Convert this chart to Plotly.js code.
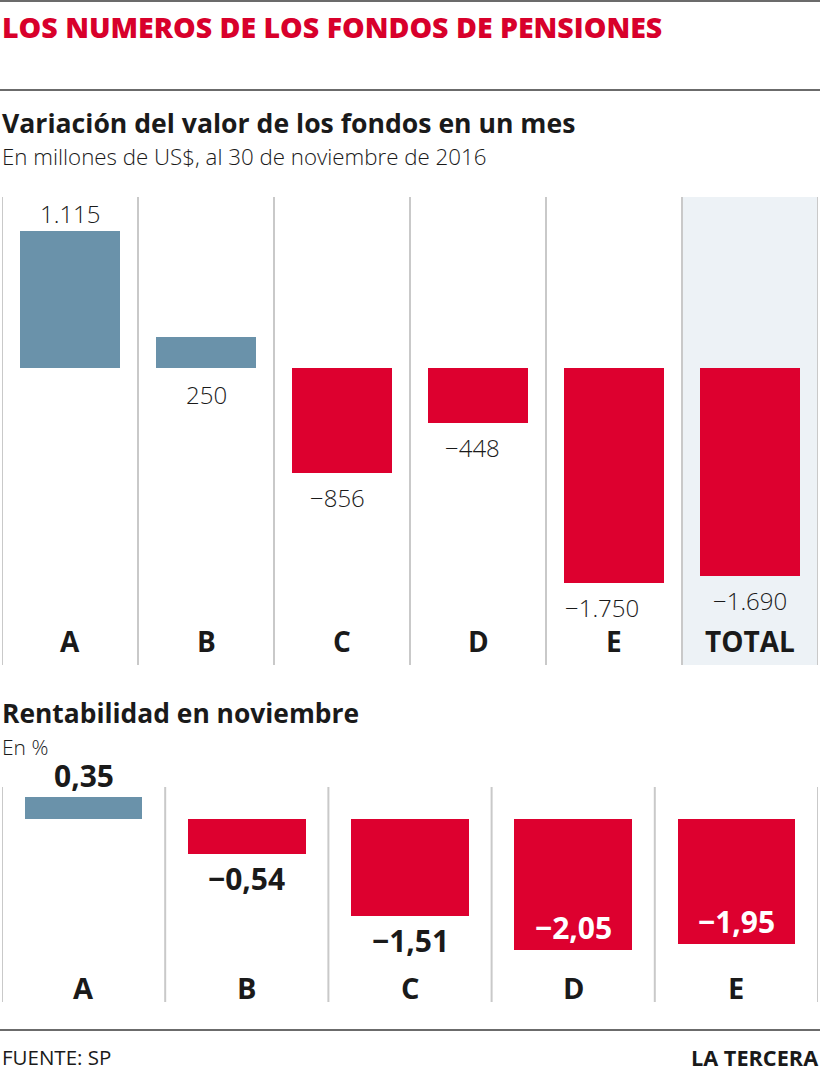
<!DOCTYPE html>
<html>
<head>
<meta charset="utf-8">
<script src="https://cdn.plot.ly/plotly-3.0.1.min.js"></script>
<style>html,body{margin:0;padding:0;background:#fff;}#chart{width:820px;height:1072px;}</style>
</head>
<body>
<div id="chart"></div>
<script>
// ---- data ----
const topCategories = ['A', 'B', 'C', 'D', 'E', 'TOTAL'];
const topValues = [1115, 250, -856, -448, -1750, -1690];
const bottomCategories = ['A', 'B', 'C', 'D', 'E'];
const bottomValues = [0.35, -0.54, -1.51, -2.05, -1.95];

const mainTitle = 'LOS NUMEROS DE LOS FONDOS DE PENSIONES';
const topTitle = 'Variación del valor de los fondos en un mes';
const topSubtitle = 'En millones de US$, al 30 de noviembre de 2016';
const bottomTitle = 'Rentabilidad en noviembre';
const bottomSubtitle = 'En %';
const sourceText = 'FUENTE: SP';
const brandText = 'LA TERCERA';

// ---- style ----
const W = 820, H = 1072;
const BLUE = '#6a92aa', RED = '#dd002f', TITLE_RED = '#d8002b', INK = '#1a1a1a';
const FONT = 'Open Sans, Roboto, sans-serif';
const py = p => 1 - p / H;

function fmt(v, decimals) {
  const neg = v < 0;
  let s = Math.abs(v).toFixed(decimals);
  let [ip, dp] = s.split('.');
  ip = ip.replace(/\B(?=(\d{3})+(?!\d))/g, '.');
  return (neg ? '\u2212' : '') + ip + (dp ? ',' + dp : '');
}

const traces = [
  {
    type: 'bar', x: topCategories, y: topValues, xaxis: 'x', yaxis: 'y',
    width: 0.73,
    marker: {color: topValues.map(v => v >= 0 ? BLUE : RED)},
    hoverinfo: 'none'
  },
  {
    type: 'bar', x: bottomCategories, y: bottomValues, xaxis: 'x2', yaxis: 'y2',
    width: 0.72,
    marker: {color: bottomValues.map(v => v >= 0 ? BLUE : RED)},
    hoverinfo: 'none'
  }
];

const shapes = [];
const annotations = [];

// top panel column separators + TOTAL background
shapes.push({type: 'rect', xref: 'x', yref: 'y domain', x0: 4.5, x1: 5.5, y0: 0, y1: 1,
  fillcolor: '#edf2f6', line: {width: 0}, layer: 'below'});
for (let i = 0; i <= topCategories.length; i++) {
  shapes.push({type: 'line', xref: 'x', yref: 'y domain', x0: i - 0.5, x1: i - 0.5, y0: 0, y1: 1,
    line: {color: '#c9c9c9', width: 2}, layer: 'below'});
}
for (let i = 0; i <= bottomCategories.length; i++) {
  shapes.push({type: 'line', xref: 'x2', yref: 'y2 domain', x0: i - 0.5, x1: i - 0.5, y0: 0, y1: 1,
    line: {color: '#c9c9c9', width: 2}, layer: 'below'});
}
// horizontal rules
[1, 90, 1030].forEach(p => shapes.push({type: 'line', xref: 'paper', yref: 'paper',
  x0: 0, x1: 1, y0: py(p), y1: py(p), line: {color: '#3a3a3a', width: 1.5}}));

// top value labels
topValues.forEach((v, i) => {
  let a = {x: topCategories[i], xref: 'x', yref: 'y', text: fmt(v, 0), showarrow: false,
    font: {family: FONT, size: 24, color: INK, weight: 300}};
  if (v > 500) { a.y = v; a.yanchor = 'bottom'; a.yshift = -1; }
  else if (v > 0) { a.y = 0; a.yanchor = 'top'; a.yshift = -8; }
  else { a.y = v; a.yanchor = 'top'; a.yshift = -6; }
  if (topCategories[i] === 'E') a.xshift = -12;
  if (topCategories[i] === 'D') a.xshift = -6;
  if (topCategories[i] === 'C') a.xshift = -5;
  annotations.push(a);
});
// top category labels
topCategories.forEach(c => annotations.push({x: c, xref: 'x', y: py(641), yref: 'paper',
  text: c, showarrow: false, yanchor: 'middle', font: {family: FONT, size: 28, color: INK, weight: 700}}));

// bottom value labels
bottomValues.forEach((v, i) => {
  let a = {x: bottomCategories[i], xref: 'x2', yref: 'y2', text: fmt(v, 2), showarrow: false,
    font: {family: FONT, size: 30, color: INK, weight: 700}};
  if (v > 0) { a.y = v; a.yanchor = 'bottom'; a.yshift = -1; }
  else if (v < -1.9) { a.y = v; a.yanchor = 'bottom'; a.yshift = 0; a.font.color = '#ffffff'; }
  else { a.y = v; a.yanchor = 'top'; a.yshift = -2; }
  annotations.push(a);
});
bottomCategories.forEach(c => annotations.push({x: c, xref: 'x2', y: py(987), yref: 'paper',
  text: c, showarrow: false, yanchor: 'middle', font: {family: FONT, size: 29, color: INK, weight: 700}}));

// titles and footer
function txt(t, x, yp, size, weight, color, xanchor) {
  annotations.push({text: t, x: x, xref: 'paper', y: py(yp), yref: 'paper', showarrow: false,
    xanchor: xanchor || 'left', yanchor: 'middle',
    font: {family: FONT, size: size, weight: weight, color: color}});
}
txt(mainTitle, 0, 27, 28.5, 800, TITLE_RED);
txt(topTitle, 0, 123, 26.6, 700, INK);
txt(topSubtitle, 0, 156, 22.3, 300, INK);
txt(bottomTitle, 0, 713, 26.4, 700, INK);
txt(bottomSubtitle, 0, 747, 21, 300, INK);
txt(sourceText, 0, 1057, 20.5, 400, INK);
txt(brandText, 1, 1057, 21.7, 700, INK, 'right');

const ax = {showgrid: false, zeroline: false, showticklabels: false, ticks: '', showline: false, fixedrange: true};
const layout = {
  width: W, height: H, margin: {l: 0, r: 0, t: 0, b: 0},
  paper_bgcolor: '#ffffff', plot_bgcolor: 'rgba(0,0,0,0)',
  showlegend: false, bargap: 0,
  xaxis: Object.assign({}, ax, {domain: [2 / W, 818 / W], range: [-0.5, 5.5], type: 'category', anchor: 'y'}),
  yaxis: Object.assign({}, ax, {domain: [py(665), py(197)], range: [-2417, 1391], anchor: 'x'}),
  xaxis2: Object.assign({}, ax, {domain: [2 / W, 818 / W], range: [-0.5, 4.5], type: 'category', anchor: 'y2'}),
  yaxis2: Object.assign({}, ax, {domain: [py(1002), py(787)], range: [-2.859, 0.5], anchor: 'x2'}),
  shapes: shapes, annotations: annotations
};
Plotly.newPlot('chart', traces, layout, {staticPlot: true, displayModeBar: false});
</script>
</body>
</html>
